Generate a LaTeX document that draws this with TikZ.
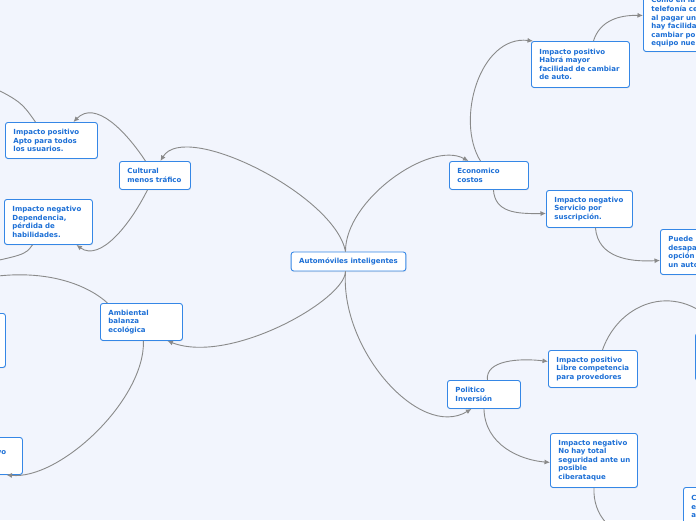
\documentclass[tikz,border=0pt]{standalone}
\usepackage{fontspec}
\newfontfamily\mapfont{DejaVu Sans}
\usetikzlibrary{arrows.meta,shadows}
\definecolor{MapBlue}{HTML}{1C6FD6}
\definecolor{MapEdge}{HTML}{3587E6}
\definecolor{MapGrey}{HTML}{8A8A8A}
\definecolor{MapSky}{HTML}{F2F5FD}

\begin{document}
\begin{tikzpicture}[x=1pt,y=-1pt,
    topic/.style={rectangle,rounded corners=2.5pt,draw=MapEdge,line width=0.9pt,fill=white,text=MapBlue,anchor=north west,align=left,inner xsep=8pt,inner ysep=4pt,font=\mapfont\bfseries\fontsize{7}{8.6}\selectfont,drop shadow={shadow xshift=0.5pt,shadow yshift=-1pt,opacity=0.15}},
    link/.style={-{Latex[length=5.5pt,width=5pt]},line width=0.9pt,MapGrey}
  ]
    \useasboundingbox (0,0) rectangle (696,520);
    \fill[MapSky] (0,0) rectangle (696,520);
    \clip (0,0) rectangle (696,520);
    \node[topic,anchor=center,align=center,minimum width=113pt,minimum height=19pt] (autos) at (348.5,261.5) {Automóviles inteligentes};
    \node[topic,text width=55pt,minimum height=28pt] (cult) at (119,161) {Cultural\\menos tráfico};
    \node[topic,text width=76pt,minimum height=36pt] (apto) at (5,122) {Impacto positivo\\Apto para todos\\los usuarios.};
    \node[topic,text width=72pt,minimum height=45pt] (depen) at (4,199) {Impacto negativo\\Dependencia,\\pérdida de\\habilidades.};
    \node[topic,text width=66pt,minimum height=37pt] (amb) at (100,303) {Ambiental\\balanza\\ecológica};
    \node[topic,text width=69pt,minimum height=54pt] (hidden) at (-80,313) {};
    \node[topic,text width=74pt,minimum height=37pt] (posib) at (-68,437) {\phantom{Impacto positi}vo\\\phantom{x}};
    \node[topic,text width=63pt,minimum height=28pt] (econ) at (449,161) {Economico\\costos};
    \node[topic,text width=82pt,minimum height=46pt] (habra) at (531,41) {Impacto positivo\\Habrá mayor\\facilidad de~cambiar\\de auto.};
    \node[topic,text width=70pt,minimum height=58pt] (celu) at (643,-7) {Como en la\\telefonía ce\\al pagar un\\hay facilida\\cambiar po\\equipo nue};
    \node[topic,text width=70pt,minimum height=37pt] (suscr) at (546,190) {Impacto negativo\\Servicio por\\suscripción.};
    \node[topic,text width=70pt,minimum height=45pt] (desap) at (660,229) {Puede\\desapa\\opción\\un auto};
    \node[topic,text width=57pt,minimum height=28pt] (polit) at (447,380) {Politico\\Inversión};
    \node[topic,text width=73pt,minimum height=37pt] (libre) at (548,350) {Impacto positivo\\Libre~competencia\\para provedores};
    \node[topic,text width=71pt,minimum height=54pt] (ciber) at (550,433) {Impacto negativo\\No hay total\\seguridad~ante~un\\posible\\ciberataque};
    \node[topic,text width=70pt,minimum height=38pt] (corner) at (683,487) {C\\e\\a};
    \node[topic,text width=70pt,minimum height=47pt] (rnode) at (695,333) {};
    \coordinate (aptoKid) at (-40,72);
    \coordinate (depKid) at (-40,268);
    \coordinate (ambKid) at (-60,290);
    \coordinate (ciberKid) at (650,545);
    % main branches
    \draw[link] ([xshift=-3pt]autos.north) .. controls (335,195) and (185,120) .. ([xshift=5.5pt]cult.north);
    \draw[link] ([xshift=-3pt]autos.north) .. controls (345,200) and (430,140) .. ([xshift=-20.5pt]econ.north);
    \draw[link] ([xshift=-3pt]autos.south) .. controls (345,300) and (230,365) .. ([xshift=26pt]amb.south);
    \draw[link] ([xshift=-3pt]autos.south) .. controls (340,350) and (420,440) .. ([xshift=-12.5pt]polit.south);
    % left side
    \draw[link] ([xshift=-9.5pt]cult.north) .. controls (125,130) and (95,100) .. ([xshift=22pt]apto.north);
    \draw[link] ([xshift=-7.5pt]cult.south) .. controls (130,225) and (100,262) .. ([xshift=28pt]depen.south);
    \draw[link] ([xshift=-16pt]apto.north) .. controls (20,100) .. (aptoKid);
    \draw[link] ([xshift=-16pt]depen.south) .. controls (25,255) .. (depKid);
    \draw[link] ([xshift=-34pt]amb.north) .. controls (80,278) and (20,262) .. (ambKid);
    \draw[link] ([xshift=2pt]amb.south) .. controls (145,400) and (60,480) .. ([xshift=29pt]posib.south);
    % right side
    \draw[link] ([xshift=-8.5pt]econ.north) .. controls (455,120) and (480,35) .. ([xshift=2pt]habra.north west);
    \draw[link] ([xshift=4.5pt]econ.south) .. controls (495,212) and (515,214) .. ([yshift=-4.5pt]suscr.west);
    \draw[link] ([xshift=13pt]habra.north) .. controls (600,20) and (620,15) .. ([yshift=7pt]celu.west);
    \draw[link] ([xshift=6pt]suscr.south) .. controls (598,258) and (630,262) .. ([yshift=-8.5pt]desap.west);
    \draw[link] ([xshift=3.5pt]polit.north) .. controls (485,360) and (520,358) .. ([yshift=7.5pt]libre.west);
    \draw[link] (polit.south) .. controls (485,445) and (520,460) .. ([yshift=-2pt]ciber.west);
    \draw[link] ([xshift=9.5pt]libre.north) .. controls (620,300) and (680,280) .. ([xshift=-15pt]rnode.north);
    \draw[link] (ciber.south) .. controls (593,515) and (610,535) .. (ciberKid);
  \end{tikzpicture}
\end{document}
